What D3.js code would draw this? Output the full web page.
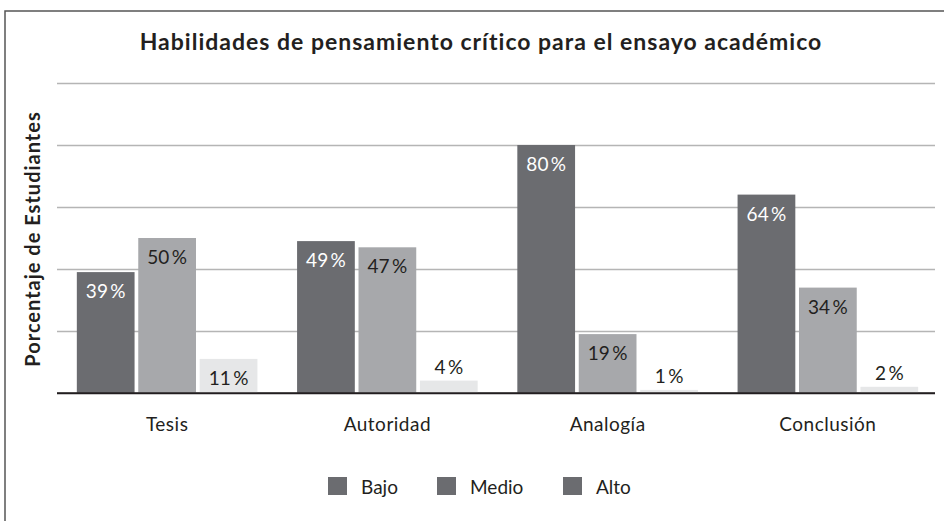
<!DOCTYPE html>
<html>
<head>
<meta charset="utf-8">
<script src="https://cdn.jsdelivr.net/npm/d3@7"></script>
<style>
  body { margin: 0; background: #fff; }
  svg text { font-family: Lato, "Open Sans", sans-serif; fill: #231f20; }
</style>
</head>
<body>
<div id="chart"></div>
<script>
// data
var categories = ["Tesis", "Autoridad", "Analogía", "Conclusión"];
var series = ["Bajo", "Medio", "Alto"];
var bajo = [39, 49, 80, 64];
var medio = [50, 47, 19, 34];
var alto = [11, 4, 1, 2];
var yTicks = [0, 20, 40, 60, 80, 100];

var values = { "Bajo": bajo, "Medio": medio, "Alto": alto };
var barColors = { "Bajo": "#6b6c70", "Medio": "#a7a8ab", "Alto": "#e6e7e8" };
var labelColors = { "Bajo": "#ffffff", "Medio": "#231f20", "Alto": "#231f20" };

var width = 944, height = 521;
var margin = { top: 83, left: 57, right: 6, bottom: 128 };

var svg = d3.select("#chart")
  .append("svg")
  .attr("width", width)
  .attr("height", height);

// frame
svg.append("path")
  .attr("d", "M5," + height + "V11H" + width)
  .attr("fill", "none")
  .attr("stroke", "#555")
  .attr("stroke-width", 1.5);

var xScale = d3.scaleBand()
  .domain(categories)
  .range([margin.left, width - margin.right])
  .paddingInner(0.18)
  .paddingOuter(0.09);

var xInner = d3.scaleBand()
  .domain(series)
  .range([0, xScale.bandwidth()])
  .paddingInner(0.06);

var yScale = d3.scaleLinear()
  .domain([0, 100])
  .range([height - margin.bottom, margin.top]);

// gridlines
var grid = d3.axisLeft(yScale)
  .tickValues(yTicks)
  .tickSize(-(width - margin.left - 9))
  .tickFormat("");

svg.append("g")
  .attr("class", "grid")
  .attr("transform", "translate(" + margin.left + ",0)")
  .call(grid)
  .call(function(g) {
    g.select(".domain").remove();
    g.selectAll(".tick line")
      .attr("stroke", function(d) { return d == 0 ? "#231f20" : "#b5b5b5"; })
      .attr("stroke-width", 1.5);
  });

// bars
var rows = [];
categories.forEach(function(c, i) {
  series.forEach(function(s) {
    rows.push({ cat: c, ser: s, value: values[s][i] });
  });
});

var groups = svg.append("g");

groups.selectAll("rect")
  .data(rows)
  .enter().append("rect")
  .attr("x", function(d) { return xScale(d.cat) + xInner(d.ser); })
  .attr("y", function(d) { return yScale(d.value); })
  .attr("width", xInner.bandwidth())
  .attr("height", function(d) { return yScale(0) - yScale(d.value); })
  .attr("fill", function(d) { return barColors[d.ser]; });

groups.selectAll(".val")
  .data(rows)
  .enter().append("text")
  .attr("class", "val")
  .attr("x", function(d) { return xScale(d.cat) + xInner(d.ser) + xInner.bandwidth() / 2; })
  .attr("y", function(d) {
    if (d.value >= 10) return yScale(d.value) + 26;
    return yScale(d.value) - 7;
  })
  .attr("text-anchor", "middle")
  .style("font-size", "19px")
  .style("fill", function(d) { return d.value >= 10 ? labelColors[d.ser] : "#231f20"; })
  .text(function(d) { return d.value + "\u2009%"; });

// baseline drawn again over the bars
svg.append("line")
  .attr("x1", margin.left)
  .attr("x2", width - 9)
  .attr("y1", yScale(0))
  .attr("y2", yScale(0))
  .attr("stroke", "#231f20")
  .attr("stroke-width", 1.5);

// category labels
var xAxis = d3.axisBottom(xScale).tickSize(0).tickPadding(0);
svg.append("g")
  .attr("transform", "translate(0," + (yScale(0) + 24) + ")")
  .call(xAxis)
  .call(function(g) {
    g.select(".domain").remove();
    g.selectAll("text")
      .style("font-size", "19px")
      .style("letter-spacing", "0.5px")
      .attr("fill", "#231f20");
  });

// title
svg.append("text")
  .attr("x", 481)
  .attr("y", 50)
  .attr("text-anchor", "middle")
  .style("font-size", "23px")
  .style("font-weight", "bold")
  .style("letter-spacing", "1px")
  .text("Habilidades de pensamiento crítico para el ensayo académico");

// y label
svg.append("text")
  .attr("text-anchor", "middle")
  .attr("transform", "translate(40,239)rotate(-90)")
  .style("font-size", "20px")
  .style("font-weight", "bold")
  .style("letter-spacing", "1px")
  .text("Porcentaje de Estudiantes");

// legend (all swatches share the dark tone in the original)
var legendX = [328, 437, 563];
var legend = svg.append("g");
series.forEach(function(s, i) {
  legend.append("rect")
    .attr("x", legendX[i])
    .attr("y", 477)
    .attr("width", 19)
    .attr("height", 18)
    .attr("fill", "#6b6c70");
  legend.append("text")
    .attr("x", legendX[i] + 33)
    .attr("y", 494)
    .style("font-size", "19px")
    .text(s);
});
</script>
</body>
</html>
